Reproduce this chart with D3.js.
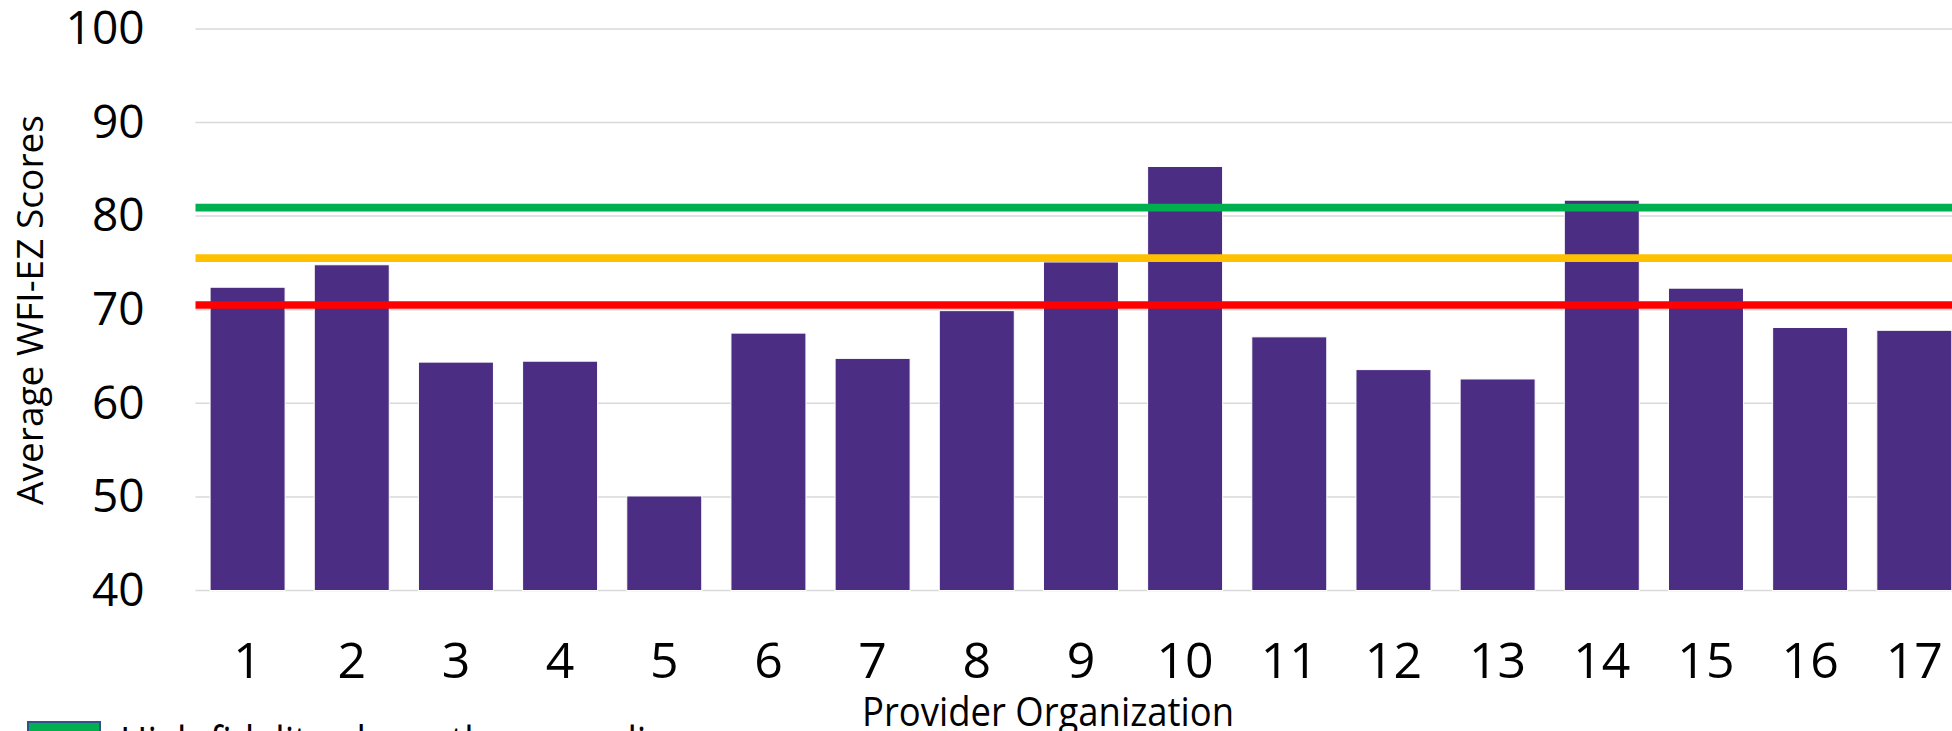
<!DOCTYPE html>
<html>
<head>
<meta charset="utf-8">
<script src="https://cdn.jsdelivr.net/npm/d3@7"></script>
<style>
  html, body { margin: 0; padding: 0; background: #ffffff; overflow: hidden; }
  svg { display: block; font-family: "Open Sans", "Noto Sans", sans-serif; }
</style>
</head>
<body>
<svg id="chart" width="1952" height="731"></svg>
<script>
// Provider organizations and their average WFI-EZ fidelity scores
const organizations = ["1","2","3","4","5","6","7","8","9","10","11","12","13","14","15","16","17"];
const averageScores = [72.4, 74.8, 64.4, 64.5, 50.1, 67.5, 64.8, 69.9, 75.1, 85.3, 67.1, 63.6, 62.6, 81.7, 72.3, 68.1, 67.8];

// Fidelity benchmark lines
const benchmarkValues = [80.9, 75.5, 70.5];
const benchmarkColors = ["#00B050", "#FFC000", "#FF0000"];

// Value axis ticks
const yTicks = [40, 50, 60, 70, 80, 90, 100];

const legendLabels = ["High fidelity above the green line"];

const svg = d3.select("#chart");

const plotLeft = 195.5, plotTop = 28.9, plotBottom = 590.5;
const step = 104.17;
const plotRight = plotLeft + step * organizations.length;

const x = d3.scaleBand()
  .domain(organizations)
  .range([plotLeft, plotRight])
  .paddingInner(0.28)
  .paddingOuter(0.14);

const y = d3.scaleLinear()
  .domain([40, 100])
  .range([plotBottom, plotTop]);

// Horizontal gridlines
svg.append("g")
  .selectAll("line")
  .data(yTicks)
  .join("line")
  .attr("x1", plotLeft)
  .attr("x2", plotRight)
  .attr("y1", d => y(d))
  .attr("y2", d => y(d))
  .attr("stroke", "#D9D9D9")
  .attr("stroke-width", 1.5);

// Bars
svg.append("g")
  .selectAll("rect")
  .data(averageScores)
  .join("rect")
  .attr("x", (d, i) => x(organizations[i]))
  .attr("width", x.bandwidth())
  .attr("y", d => y(d))
  .attr("height", d => y(40) - y(d))
  .attr("fill", "#4B2E83")
  .attr("stroke", "#ffffff")
  .attr("stroke-width", 1);

// Benchmark lines drawn over the bars
svg.append("g")
  .selectAll("line")
  .data(benchmarkValues)
  .join("line")
  .attr("x1", plotLeft)
  .attr("x2", plotRight)
  .attr("y1", d => y(d))
  .attr("y2", d => y(d))
  .attr("stroke", (d, i) => benchmarkColors[i])
  .attr("stroke-width", 7.7);

// Y axis labels
const yAxis = svg.append("g")
  .attr("transform", `translate(${plotLeft},0)`)
  .call(d3.axisLeft(y).tickValues(yTicks).tickSize(0).tickPadding(51));
yAxis.select(".domain").remove();
yAxis.selectAll("text")
  .attr("font-family", "Open Sans, Noto Sans, sans-serif")
  .attr("font-size", 46)
  .attr("fill", "#000");

// X axis labels
const xAxis = svg.append("g")
  .attr("transform", `translate(0,${plotBottom})`)
  .call(d3.axisBottom(x).tickSize(0).tickPadding(52));
xAxis.select(".domain").remove();
xAxis.selectAll("text")
  .attr("font-family", "Open Sans, Noto Sans, sans-serif")
  .attr("font-size", 50)
  .attr("fill", "#000");

// Axis titles
svg.append("text")
  .attr("x", 1048)
  .attr("y", 726)
  .attr("text-anchor", "middle")
  .attr("font-size", 40)
  .attr("textLength", 372)
  .attr("lengthAdjust", "spacingAndGlyphs")
  .attr("fill", "#000")
  .text("Provider Organization");

svg.append("text")
  .attr("transform", "translate(43,310) rotate(-90)")
  .attr("text-anchor", "middle")
  .attr("font-size", 36)
  .attr("textLength", 390)
  .attr("lengthAdjust", "spacingAndGlyphs")
  .attr("fill", "#000")
  .text("Average WFI-EZ Scores");

// Legend
const legend = svg.append("g");
legend.selectAll("rect")
  .data(legendLabels)
  .join("rect")
  .attr("x", 28)
  .attr("y", (d, i) => 722 + i * 50)
  .attr("width", 72)
  .attr("height", 36)
  .attr("fill", (d, i) => benchmarkColors[i])
  .attr("stroke", "#2F528F")
  .attr("stroke-width", 2);
legend.selectAll("text")
  .data(legendLabels)
  .join("text")
  .attr("x", 120)
  .attr("y", (d, i) => 758 + i * 50)
  .attr("font-size", 44)
  .attr("textLength", 570)
  .attr("lengthAdjust", "spacingAndGlyphs")
  .attr("fill", "#000")
  .text(d => d);
</script>
</body>
</html>
